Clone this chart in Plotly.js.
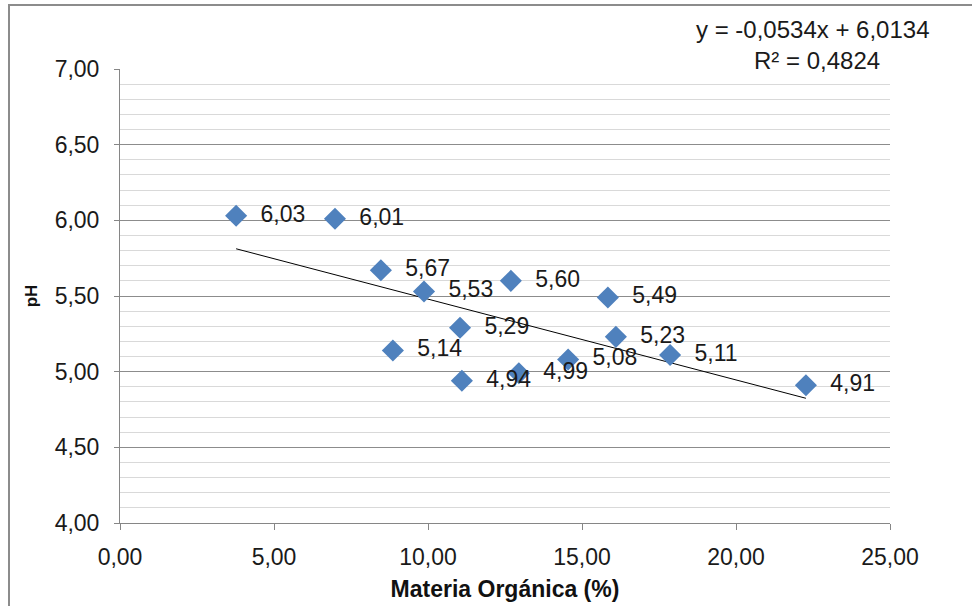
<!DOCTYPE html>
<html>
<head>
<meta charset="utf-8">
<script src="https://cdn.plot.ly/plotly-3.0.1.min.js"></script>
<style>
  html, body { margin: 0; padding: 0; background: #fff; }
  #wrap { position: relative; width: 972px; height: 606px; overflow: hidden; }
  #frame { position: absolute; left: 8px; top: 4px; width: 980px; height: 620px;
           border-top: 2px solid #8c8c8c; border-left: 2px solid #8c8c8c; pointer-events: none; }
  #chart { position: absolute; left: 0; top: 0; width: 972px; height: 606px; }
</style>
</head>
<body>
<div id="wrap">
  <div id="chart"></div>
  <div id="frame"></div>
</div>
<script>
// Data
const materiaOrganica = [3.77, 6.98, 8.47, 9.87, 8.86, 11.04, 11.10, 12.69, 12.95, 14.55, 15.84, 16.10, 17.86, 22.27];
const pH = [6.03, 6.01, 5.67, 5.53, 5.14, 5.29, 4.94, 5.60, 4.99, 5.08, 5.49, 5.23, 5.11, 4.91];
const trendSlope = -0.0534;
const trendIntercept = 6.0134;
const equationText = "y = -0,0534x + 6,0134";
const r2Text = "R² = 0,4824";
const xTickVals = [0, 5, 10, 15, 20, 25];
const yTickVals = [4, 4.5, 5, 5.5, 6, 6.5, 7];

const fmt = v => v.toFixed(2).replace('.', ',');
const xMin = Math.min(...materiaOrganica);
const xMax = Math.max(...materiaOrganica);
const trendX = [xMin, xMax];
const trendY = trendX.map(x => trendSlope * x + trendIntercept);

const font = "Liberation Sans, Arial, sans-serif";
const txt = '#1a1a1a';

const traces = [
  {
    x: trendX, y: trendY, mode: 'lines', type: 'scatter',
    line: { color: '#000000', width: 1 }, hoverinfo: 'skip', showlegend: false
  },
  {
    x: materiaOrganica, y: pH, mode: 'markers+text', type: 'scatter',
    marker: { symbol: 'diamond', size: 17, color: '#4F81BD', line: { width: 0 } },
    text: pH.map(v => '\u00a0\u00a0' + fmt(v)),
    textposition: 'middle right',
    textfont: { family: font, size: 23, color: txt },
    showlegend: false, cliponaxis: false
  }
];

const layout = {
  width: 972, height: 606,
  margin: { l: 120, r: 82, t: 69, b: 83 },
  paper_bgcolor: '#ffffff', plot_bgcolor: '#ffffff',
  separators: ',.',
  showlegend: false,
  font: { family: font, size: 23, color: txt },
  xaxis: {
    range: [0, 25], tickvals: xTickVals, tickformat: '.2f',
    showgrid: false, zeroline: false,
    showline: true, linecolor: '#868686', linewidth: 1,
    ticks: 'outside', ticklen: 6, tickcolor: '#868686',
    ticklabelstandoff: 7,
    tickfont: { family: font, size: 23, color: txt },
    title: { text: '<b>Materia Orgánica (%)</b>', font: { family: font, size: 23, color: '#111' }, standoff: 12 }
  },
  yaxis: {
    range: [4, 7], tickvals: yTickVals, tickformat: '.2f',
    showgrid: true, gridcolor: '#8c8c8c', gridwidth: 1,
    zeroline: false,
    showline: true, linecolor: '#868686', linewidth: 1,
    ticks: 'outside', ticklen: 5, tickcolor: '#868686',
    ticklabelstandoff: 10,
    tickfont: { family: font, size: 23, color: txt },
    minor: { dtick: 0.1, showgrid: true, gridcolor: '#d9d9d9', gridwidth: 1, ticks: '' },
    title: { text: '<b>pH</b>', font: { family: font, size: 17, color: '#111' }, standoff: 12 }
  },
  annotations: [
    { xref: 'paper', yref: 'paper', x: 0.9, y: 1.087, text: equationText, showarrow: false,
      xanchor: 'center', yanchor: 'middle', font: { family: font, size: 24, color: txt } },
    { xref: 'paper', yref: 'paper', x: 0.905, y: 1.018, text: r2Text, showarrow: false,
      xanchor: 'center', yanchor: 'middle', font: { family: font, size: 24, color: txt } }
  ]
};

Plotly.newPlot('chart', traces, layout, { displayModeBar: false, staticPlot: true });
</script>
</body>
</html>
